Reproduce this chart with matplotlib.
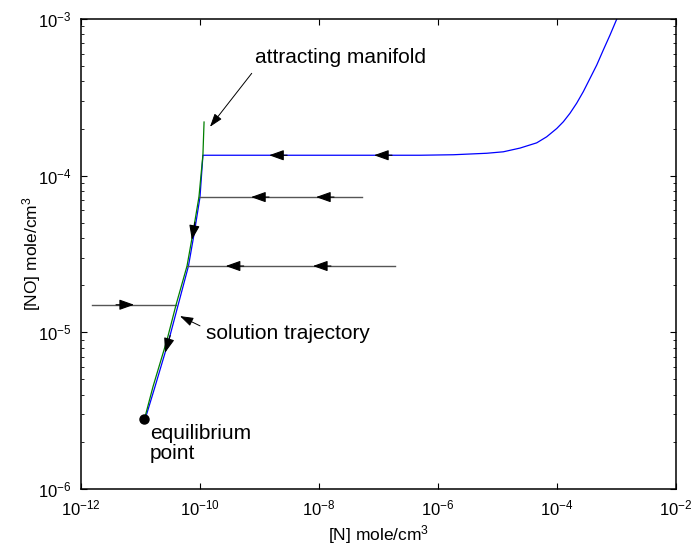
import numpy as np
import matplotlib
matplotlib.use('Agg')
import matplotlib.pyplot as plt
from matplotlib.ticker import LogLocator, NullLocator, LogFormatterMathtext

plt.rcParams['font.family'] = 'Liberation Sans'
plt.rcParams['mathtext.fontset'] = 'custom'
plt.rcParams['mathtext.rm'] = 'Liberation Sans'
plt.rcParams['mathtext.it'] = 'Liberation Sans:italic'

# attracting manifold (N, NO)
man_N = [1.17e-10, 1.12e-10, 9.6e-11, 7.6e-11, 6.05e-11, 3.96e-11, 2.79e-11, 1.62e-11, 1.19e-11]
man_NO = [2.20e-4, 1.36e-4, 7.31e-5, 4.31e-5, 2.65e-5, 1.50e-5, 8.95e-6, 4.49e-6, 2.88e-6]

# solution trajectory: from the upper right, along the plateau, down to equilibrium
sol_N = [1.007e-3, 7.78e-4, 6.0e-4, 4.65e-4, 3.59e-4, 2.77e-4, 2.14e-4, 1.65e-4, 1.28e-4,
         9.9e-5, 6.7e-5, 4.56e-5, 2.39e-5, 1.25e-5, 6.6e-6, 1.81e-6, 4.98e-7,
         1.12e-10, 1.0e-10, 8.0e-11, 6.4e-11, 4.3e-11, 3.0e-11, 1.75e-11, 1.2e-11]
sol_NO = [9.96e-4, 7.9e-4, 6.34e-4, 5.08e-4, 4.18e-4, 3.44e-4, 2.90e-4, 2.50e-4, 2.21e-4,
          2.00e-4, 1.77e-4, 1.62e-4, 1.50e-4, 1.42e-4, 1.39e-4, 1.36e-4, 1.35e-4,
          1.35e-4, 7.3e-5, 4.3e-5, 2.65e-5, 1.5e-5, 8.95e-6, 4.49e-6, 2.8e-6]

# fast transients onto the manifold: (start N, end N, NO level)
fast_start = [5.3e-8, 1.9e-7, 1.53e-12]
fast_end = [9.6e-11, 6.05e-11, 3.96e-11]
fast_NO = [7.3e-5, 2.65e-5, 1.5e-5]

# arrow tips, leftward/rightward on the horizontal lines
arrow_left_N = [1.45e-9, 8.4e-8, 7.2e-10, 8.9e-9, 2.7e-10, 7.9e-9]
arrow_left_NO = [1.35e-4, 1.35e-4, 7.3e-5, 7.3e-5, 2.65e-5, 2.65e-5]
arrow_right_N = [7.8e-12]
arrow_right_NO = [1.5e-5]
# arrows pointing down the manifold
arrow_down_N = [7.3e-11, 2.58e-11]
arrow_down_NO = [3.89e-5, 7.4e-6]

eq_N, eq_NO = 1.15e-11, 2.8e-6

fig = plt.figure(figsize=(6.96, 5.54), dpi=100)
ax = fig.add_axes([81 / 696, 65 / 554, 595 / 696, 470 / 554])
ax.set_xscale('log')
ax.set_yscale('log')
ax.set_xlim(1e-12, 1e-2)
ax.set_ylim(1e-6, 1e-3)

ax.plot(sol_N, sol_NO, color='#0000ff', lw=0.9)
for s, e, y in zip(fast_start, fast_end, fast_NO):
    ax.plot([s, e], [y, y], color='#555555', lw=1.0)
ax.plot(man_N, man_NO, color='#007f00', lw=0.9)
ax.plot([eq_N], [eq_NO], 'ko', markersize=6.5)

arrow_kw = dict(arrowstyle='-|>,head_length=0.9,head_width=0.32', color='k',
                lw=0.8, shrinkA=0, shrinkB=0, mutation_scale=10)
for x, y in zip(arrow_left_N, arrow_left_NO):
    ax.annotate('', xy=(x, y), xytext=(13, 0), textcoords='offset points', arrowprops=arrow_kw)
for x, y in zip(arrow_right_N, arrow_right_NO):
    ax.annotate('', xy=(x, y), xytext=(-13, 0), textcoords='offset points', arrowprops=arrow_kw)

# direction of the manifold at each down arrow, in screen space
fig.canvas.draw()
pts = ax.transData.transform(np.column_stack([man_N, man_NO]))
for x, y in zip(arrow_down_N, arrow_down_NO):
    tip = ax.transData.transform((x, y))
    i = np.argmin(np.abs(pts[:, 1] - tip[1]))
    j = max(i - 1, 0) if pts[i, 1] < tip[1] else i
    d = pts[j] - pts[j + 1]
    d = d / np.hypot(*d) * 13
    ax.annotate('', xy=(x, y), xytext=(d[0], d[1]), textcoords='offset points', arrowprops=arrow_kw)

line_kw = dict(arrowstyle='-|>,head_length=0.9,head_width=0.3', color='k',
               lw=0.7, shrinkA=0, shrinkB=0, mutation_scale=9)
ax.annotate('', xy=(1.47e-10, 2.05e-4), xytext=(7.4e-10, 4.5e-4), arrowprops=line_kw)
ax.text(8.4e-10, 5.7e-4, 'attracting manifold', fontsize=15, va='center', ha='left')
ax.annotate('', xy=(4.6e-11, 1.27e-5), xytext=(1.0e-10, 1.1e-5), arrowprops=line_kw)
ax.text(1.26e-10, 9.9e-6, 'solution trajectory', fontsize=15, va='center', ha='left')
ax.text(1.45e-11, 1.95e-6, 'equilibrium\npoint', fontsize=15, va='center', ha='left',
        linespacing=1.1)

ax.xaxis.set_major_locator(LogLocator(base=100.0))
ax.xaxis.set_minor_locator(NullLocator())
ax.xaxis.set_major_formatter(LogFormatterMathtext(base=10.0))
ax.yaxis.set_major_locator(LogLocator(base=10.0))
ax.yaxis.set_minor_locator(LogLocator(base=10.0, subs=np.arange(2, 10)))
ax.tick_params(which='both', direction='in', top=True, right=True, labelsize=12)
ax.tick_params(which='major', length=4, width=0.8, pad=7)
ax.tick_params(which='minor', length=2.5, width=0.6)
for sp in ax.spines.values():
    sp.set_linewidth(1.1)

ax.set_xlabel('[N] mole/cm$^3$', fontsize=12.5, labelpad=3)
ax.set_ylabel('[NO] mole/cm$^3$', fontsize=12.5, labelpad=-4)

fig.savefig('out.png', dpi=100)
